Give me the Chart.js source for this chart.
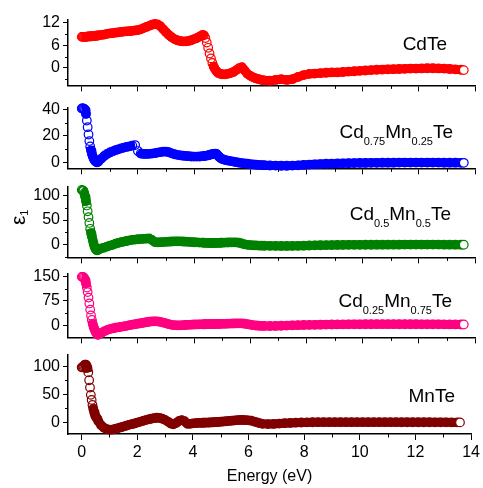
<!DOCTYPE html>
<html>
<head>
<meta charset="utf-8">
<script src="https://cdn.jsdelivr.net/npm/chart.js@4.4.1/dist/chart.umd.min.js"></script>
<style>
  html, body { margin: 0; padding: 0; background: #fff; }
  #wrap { position: relative; width: 483px; height: 488px; overflow: hidden; }
  #wrap canvas { position: absolute; left: 0; }
</style>
</head>
<body>
<div id="wrap"></div>
<script>
// Real part of the dielectric function (eps1) vs photon energy,
// five stacked panels sharing one energy axis.

// photon energy (eV), finer where the curves change fast
const energy = [
  0, 0.03, 0.06, 0.09, 0.12, 0.15, 0.18, 0.21, 0.24, 0.27, 0.3, 0.33, 0.36, 0.39, 0.42, 0.45, 0.48, 0.51, 0.54, 0.57, 0.6,
  0.7, 0.8, 0.9, 1.0, 1.1, 1.2, 1.3, 1.4, 1.5, 1.6, 1.7, 1.8, 1.9, 2.0, 2.1, 2.2, 2.3, 2.4, 2.5, 2.6, 2.7, 2.8, 2.9, 3.0,
  3.1, 3.2, 3.3, 3.4, 3.5, 3.6, 3.7, 3.8, 3.9, 4.0, 4.1, 4.2, 4.3,
  4.35, 4.4, 4.45, 4.5, 4.55, 4.6, 4.65, 4.7, 4.75, 4.8, 4.85, 4.9, 4.95, 5.0,
  5.1, 5.2, 5.3, 5.4, 5.5, 5.6, 5.7, 5.8, 5.9, 6.0, 6.1, 6.2, 6.3, 6.4, 6.5,
  6.7, 6.9, 7.1, 7.3, 7.5, 7.7, 7.9, 8.1, 8.3, 8.5, 8.7, 8.9, 9.1, 9.3, 9.5, 9.7, 9.9,
  10.1, 10.3, 10.5, 10.7, 10.9, 11.1, 11.3, 11.5, 11.7, 11.9, 12.1, 12.3, 12.5, 12.7, 12.9,
  13.1, 13.3, 13.5, 13.6
];

const epsCdTe = [
  8.2, 8.2, 8.2, 8.2, 8.2, 8.2, 8.25, 8.25, 8.3, 8.3, 8.3, 8.35, 8.35, 8.4, 8.4, 8.45, 8.45, 8.5, 8.5, 8.55, 8.6,
  8.7, 8.8, 9.0, 9.1, 9.2, 9.3, 9.4, 9.5, 9.6, 9.65, 9.7, 9.8, 9.9, 10.0, 10.2, 10.5, 10.8, 11.1, 11.4, 11.6, 11.5, 11.0, 10.2, 9.4,
  8.7, 8.1, 7.6, 7.3, 7.1, 7.0, 7.0, 7.1, 7.3, 7.6, 7.9, 8.3, 8.7,
  8.6, 7.9, 6.7, 5.3, 3.8, 2.5, 1.3, 0.3, -0.4, -0.9, -1.3, -1.5, -1.6, -1.7,
  -1.7, -1.6, -1.4, -1.1, -0.6, -0.1, 0.2, -0.7, -1.6, -2.1, -2.5, -2.8, -3.0, -3.2, -3.3,
  -3.4, -3.2, -3.0, -3.2, -3.0, -2.4, -1.9, -1.6, -1.5, -1.4, -1.3, -1.2, -1.2, -1.1, -1.0, -0.9, -0.8,
  -0.7, -0.6, -0.5, -0.45, -0.4, -0.35, -0.3, -0.25, -0.2, -0.2, -0.15, -0.1, -0.1, -0.15, -0.2,
  -0.3, -0.4, -0.5, -0.6
];

const epsCd75 = [
  40.6, 40.8, 40.6, 40.3, 39.5, 36.5, 31.5, 26.5, 21, 16, 12, 9, 6.5, 4.5, 3, 1.8, 0.9, 0.3, 0, 0.2, 0.8,
  2.8, 4.8, 6.3, 7.4, 8.3, 9.1, 9.8, 10.5, 11.1, 11.6, 12.1, 12.6, 13.0, 8.5, 6.6, 6.3, 6.3, 6.4, 6.6, 6.9, 7.3, 7.7, 8.0, 8.1,
  7.6, 6.8, 6.1, 5.6, 5.3, 5.0, 4.8, 4.6, 4.4, 4.3, 4.3, 4.4, 4.6,
  4.7, 4.9, 5.1, 5.3, 5.6, 5.9, 6.2, 6.4, 6.5, 6.3, 5.2, 3.9, 3.1, 2.5,
  1.8, 1.3, 0.9, 0.5, 0.1, -0.3, -0.6, -0.9, -1.1, -1.4, -1.6, -1.8, -2.0, -2.1, -2.2,
  -2.4, -2.5, -2.6, -2.6, -2.5, -2.3, -2.0, -1.7, -1.5, -1.3, -1.1, -1.0, -0.9, -0.8, -0.7, -0.6, -0.5,
  -0.5, -0.4, -0.4, -0.3, -0.3, -0.3, -0.2, -0.2, -0.2, -0.2, -0.2, -0.2, -0.2, -0.2, -0.3,
  -0.3, -0.3, -0.4, -0.4
];

const epsCd50 = [
  112, 111, 110, 105, 98, 89, 80, 68, 56, 44, 32, 23, 16, 9, 2, -4, -8, -11, -12, -11.5, -10.5,
  -8, -6.5, -4.5, -2.5, -1, 1.5, 3, 4.5, 5.8, 7, 8.2, 9.3, 10, 10.6, 11, 11.4, 11.8, 12.3, 9, 4.8, 4.3, 4.5, 4.8, 5.2,
  5.6, 6, 6.2, 6.3, 6.2, 6, 5.6, 5.2, 4.8, 4.4, 4.1, 3.8, 3.6,
  3.4, 3.3, 3.2, 3.1, 3.0, 2.9, 2.9, 2.9, 3.0, 3.1, 3.2, 3.3, 3.4, 3.5,
  3.7, 3.9, 4.0, 4.1, 4.0, 3.4, 1.8, 0.2, -0.8, -1.4, -1.8, -2.1, -2.4, -2.6, -2.8,
  -3.0, -3.1, -3.2, -3.2, -3.1, -2.9, -2.6, -2.3, -2.0, -1.7, -1.5, -1.3, -1.1, -1.0, -0.9, -0.8, -0.8,
  -0.7, -0.7, -0.6, -0.6, -0.5, -0.5, -0.5, -0.4, -0.4, -0.4, -0.4, -0.4, -0.4, -0.4, -0.5,
  -0.5, -0.6, -0.6, -0.7
];

const epsCd25 = [
  149, 149, 148, 145, 139, 129, 116, 102, 85, 67, 48, 30, 16, 4, -5, -12, -18, -23, -27, -30, -29,
  -24, -19, -15, -12, -10, -8, -6.5, -5, -3.5, -2, 0, 1.5, 3, 4.5, 6, 7.5, 9, 10.5, 11.5, 12, 11.5, 10, 8, 5.5,
  3, 1, 0, -0.5, -0.5, 0, 0.5, 1, 1.5, 2, 2.3, 2.5, 2.7,
  2.8, 2.9, 3.0, 3.1, 3.2, 3.3, 3.4, 3.5, 3.6, 3.7, 3.8, 3.9, 4.0, 4.1,
  4.3, 4.6, 4.9, 5.2, 5.4, 5.5, 5.4, 4.5, 3, 1.5, 0, -1, -1.8, -2.2, -2.4,
  -2.5, -2.3, -1.8, -1.2, -0.6, 0, 0.5, 0.9, 1.2, 1.5, 1.8, 2.0, 2.2, 2.4, 2.5, 2.6, 2.7,
  2.8, 2.9, 3.0, 3.0, 3.0, 3.0, 2.9, 2.9, 2.8, 2.8, 2.7, 2.7, 2.6, 2.5, 2.4,
  2.3, 2.2, 2.1, 2.0
];

const epsMnTe = [
  98, 98, 99, 101, 103, 103, 101, 97, 89, 75, 62, 49, 40, 31, 24, 18, 13, 10, 8, 6, 2,
  -5, -9.5, -12, -13, -12.8, -11.8, -10.5, -9, -7.5, -6, -4.5, -3.2, -2, -0.5, 1, 2.5, 4, 5.2, 6.5, 7.5, 8.2, 8, 6.5, 4.5,
  1.5, -2, -3.5, -1, 2.5, 4, 2, -2.5, -2.5, -1.8, -1.3, -1, -0.8,
  -0.7, -0.6, -0.5, -0.4, -0.3, -0.2, -0.1, 0, 0.2, 0.4, 0.6, 0.8, 1.0, 1.2,
  1.6, 2.0, 2.5, 3.0, 3.5, 4.0, 4.2, 4.2, 4.0, 3.6, 3.0, 1.5, 0, -1.5, -2.5,
  -3, -2.8, -2.2, -1.5, -1, -0.5, -0.2, 0, 0.2, 0.3, 0.3, 0.3, 0.3, 0.3, 0.3, 0.3, 0.3,
  0.3, 0.3, 0.3, 0.3, 0.3, 0.3, 0.3, 0.2, 0.2, 0.2, 0.2, 0.2, 0.2, 0.1, 0.1,
  0.1, 0, 0, 0
];

// tick labels
const xTicks      = [0, 2, 4, 6, 8, 10, 12, 14];
const xMinor      = [1, 3, 5, 7, 9, 11, 13];
const cdteTicks   = [0, 6, 12];
const cdteMinor   = [-3, 3, 9];
const cd75Ticks   = [0, 20, 40];
const cd75Minor   = [10, 30];
const cd50Ticks   = [0, 50, 100];
const cd50Minor   = [-25, 25, 75];
const cd25Ticks   = [0, 75, 150];
const cd25Minor   = [37.5, 112.5];
const mnteTicks   = [0, 50, 100];
const mnteMinor   = [25, 75];

const FONT = '"Liberation Sans", Arial, sans-serif';

// panel frames in page pixels (plot area top/bottom) and value ranges
const panels = [
  { vals: epsCdTe, color: "#ff0000", top: 15,  bottom: 90,  min: -4.64, max: 12.76, ticks: cdteTicks, minor: cdteMinor,
    label: { parts: [["CdTe", 0]], right: 447, base: 50 } },
  { vals: epsCd75, color: "#0000ff", top: 103, bottom: 173, min: -4.6,  max: 41.3,  ticks: cd75Ticks, minor: cd75Minor,
    label: { parts: [["Cd", 0], ["0.75", 1], ["Mn", 0], ["0.25", 1], ["Te", 0]], right: 453, base: 138 } },
  { vals: epsCd50, color: "#008000", top: 182, bottom: 262, min: -26.7, max: 118.7, ticks: cd50Ticks, minor: cd50Minor,
    label: { parts: [["Cd", 0], ["0.5", 1], ["Mn", 0], ["0.5", 1], ["Te", 0]], right: 451, base: 220 } },
  { vals: epsCd25, color: "#ff0080", top: 269, bottom: 342, min: -37.7, max: 159,   ticks: cd25Ticks, minor: cd25Minor,
    label: { parts: [["Cd", 0], ["0.25", 1], ["Mn", 0], ["0.75", 1], ["Te", 0]], right: 452, base: 307 } },
  { vals: epsMnTe, color: "#800000", top: 350, bottom: 434, min: -20.7, max: 120.7, ticks: mnteTicks, minor: mnteMinor,
    label: { parts: [["MnTe", 0]], right: 455, base: 402 } },
];

// short ticks between the labelled ones
const minorTicks = {
  id: "minorTicks",
  afterDraw(chart, args, opts) {
    const { ctx, chartArea: a, scales } = chart;
    ctx.save();
    ctx.strokeStyle = "#000";
    ctx.lineWidth = 1;
    ctx.beginPath();
    opts.x.forEach(v => {
      const px = Math.round(scales.x.getPixelForValue(v)) + 0.5;
      ctx.moveTo(px, a.bottom);
      ctx.lineTo(px, a.bottom + 3.5);
    });
    opts.y.forEach(v => {
      if (v < scales.y.min || v > scales.y.max) return;
      const py = Math.round(scales.y.getPixelForValue(v)) + 0.5;
      ctx.moveTo(a.left, py);
      ctx.lineTo(a.left - 3, py);
    });
    ctx.stroke();
    ctx.restore();
  }
};

// text with subscripts: parts are [text, isSub]
const richLabel = {
  id: "richLabel",
  afterDraw(chart, args, opts) {
    const { ctx } = chart;
    (opts.items || []).forEach(it => {
      const fontOf = p => (p[1] ? it.sub : it.size) + "px " + FONT;
      ctx.save();
      ctx.fillStyle = "#000";
      ctx.textBaseline = "alphabetic";
      ctx.textAlign = "left";
      let w = 0;
      it.parts.forEach(p => { ctx.font = fontOf(p); w += ctx.measureText(p[0]).width; });
      ctx.translate(it.x, it.y);
      if (it.rotate) ctx.rotate(-Math.PI / 2);
      let x = it.align === "right" ? -w : 0;
      it.parts.forEach(p => {
        ctx.font = fontOf(p);
        ctx.fillText(p[0], x, p[1] ? it.drop : 0);
        x += ctx.measureText(p[0]).width;
      });
      ctx.restore();
    });
  }
};

const wrap = document.getElementById("wrap");

panels.forEach((p, i) => {
  const last = i === panels.length - 1;
  const PT = 8;
  const HX = last ? 54 : 8;
  const canvasTop = p.top - PT;
  const height = PT + (p.bottom - p.top) + HX;

  const cv = document.createElement("canvas");
  cv.width = 483;
  cv.height = height;
  cv.style.top = canvasTop + "px";
  cv.style.width = "483px";
  cv.style.height = height + "px";
  wrap.appendChild(cv);

  const items = [{
    parts: p.label.parts, x: p.label.right, y: p.label.base - canvasTop,
    size: 19, sub: 11, drop: 7, align: "right"
  }];
  if (i === 2) {
    items.push({ parts: [["ε", 0], ["1", 1]], x: 25, y: 225 - canvasTop,
                 size: 21, sub: 11, drop: 3, rotate: true });
  }

  new Chart(cv, {
    type: "line",
    data: {
      datasets: [{
        data: energy.map((e, k) => ({ x: e, y: p.vals[k] })),
        borderColor: p.color,
        borderWidth: 9,
        borderJoinStyle: "round",
        pointRadius: 4.3,
        pointBorderWidth: 1.2,
        pointBorderColor: p.color,
        pointBackgroundColor: c => c.dataIndex === energy.length - 1 ? "#fff" : "rgba(0,0,0,0)",
        tension: 0,
        clip: false,
        segment: {
          // steep stretches show the bare open circles
          borderColor: c => Math.abs(c.p1.y - c.p0.y) > 4.5 ? "rgba(0,0,0,0)" : undefined
        }
      }]
    },
    options: {
      responsive: false,
      animation: false,
      devicePixelRatio: 1,
      layout: { autoPadding: false, padding: { top: PT, left: 0, right: 8, bottom: 0 } },
      scales: {
        x: {
          type: "linear",
          min: -0.49, max: 14,
          afterBuildTicks: s => { s.ticks = xTicks.map(v => ({ value: v })); },
          afterFit: s => { s.height = HX; },
          grid: { drawOnChartArea: false, drawTicks: true, tickLength: 6, color: "#000", lineWidth: 1 },
          border: { display: true, color: "#000", width: 1.5 },
          ticks: { display: last, color: "#000", padding: 3, maxRotation: 0, autoSkip: false,
                   font: { family: FONT, size: 16 } },
          title: { display: last, text: "Energy (eV)", color: "#000",
                   font: { family: FONT, size: 16 }, padding: { top: 0, bottom: 2 } }
        },
        y: {
          min: p.min, max: p.max,
          afterBuildTicks: s => { s.ticks = p.ticks.map(v => ({ value: v })); },
          afterFit: s => { s.width = 68; },
          grid: { drawOnChartArea: false, drawTicks: true, tickLength: 5, color: "#000", lineWidth: 1 },
          border: { display: true, color: "#000", width: 1.5 },
          ticks: { color: "#000", padding: 3, font: { family: FONT, size: 16 } }
        }
      },
      plugins: {
        legend: { display: false },
        tooltip: { enabled: false },
        minorTicks: { x: xMinor, y: p.minor },
        richLabel: { items }
      }
    },
    plugins: [minorTicks, richLabel]
  });
});
</script>
</body>
</html>
